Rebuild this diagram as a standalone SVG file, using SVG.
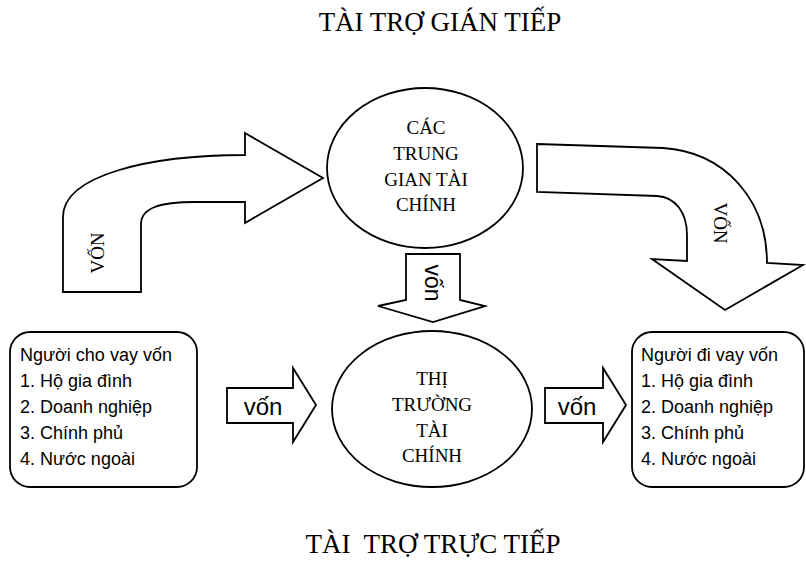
<svg xmlns="http://www.w3.org/2000/svg" width="806" height="567" viewBox="0 0 806 567">
<style>
.shape{fill:#fff;stroke:#000;stroke-width:1.8;stroke-linejoin:miter}
.serif{font-family:"Liberation Serif","Times New Roman",serif;fill:#000}
.sans{font-family:"Liberation Sans",Arial,sans-serif;fill:#000}
.title{font-size:27px}
.node{font-size:19px;text-anchor:middle}
.list{font-size:18px}
.lbl{font-size:24px;text-anchor:middle}
</style>
<rect width="806" height="567" fill="#fff"/>
<text class="serif title" x="440" y="31" text-anchor="middle">TÀI TRỢ GIÁN TIẾP</text>
<text class="serif title" x="433" y="553" text-anchor="middle" xml:space="preserve">TÀI  TRỢ TRỰC TIẾP</text>

<g id="connectors">
  <g id="arrow-indirect-in">
    <path class="shape" d="M63,292 L63,217 C63,175 150,155 245,155 L245,133 L323,178 L245,223 L245,202 L195,202 C160,202 141,208 141,224 L141,292 Z"/>
    <text class="serif" font-size="19" text-anchor="middle" transform="translate(97,253) rotate(-90)" y="6.5">VỐN</text>
  </g>
  <g id="arrow-indirect-out">
    <path class="shape" d="M537,144 L663,148 C725,152 767,200 767,263 L803,265 L725,310 L652,259 L687,261 L687,235 C687,212 675,197 657,196 L537,192 Z"/>
    <text class="serif" font-size="19" text-anchor="middle" transform="translate(720,223) rotate(90)" y="6.5">VỐN</text>
  </g>
  <g id="arrow-down">
    <path class="shape" d="M406,254 L460,254 L460,300 L485,306 L433,322 L378,306 L406,300 Z"/>
    <text class="sans" font-size="23" text-anchor="middle" transform="translate(425,283) rotate(90)" y="0">vốn</text>
  </g>
  <g id="arrow-direct-in">
    <path class="shape" d="M227,388 L293,388 L293,368 L316,405 L293,442 L293,423 L227,423 Z"/>
    <text class="sans lbl" x="263" y="415">vốn</text>
  </g>
  <g id="arrow-direct-out">
    <path class="shape" d="M545,388 L603,388 L603,368 L626,405 L603,442 L603,423 L545,423 Z"/>
    <text class="sans lbl" x="577" y="415">vốn</text>
  </g>
</g>

<g id="intermediaries">
  <ellipse class="shape" cx="425" cy="168" rx="98" ry="80"/>
  <text class="serif node" x="426" y="134">CÁC</text>
  <text class="serif node" x="426" y="160">TRUNG</text>
  <text class="serif node" x="426" y="186">GIAN TÀI</text>
  <text class="serif node" x="426" y="211">CHÍNH</text>
</g>

<g id="market">
  <ellipse class="shape" cx="432" cy="409" rx="100" ry="78"/>
  <text class="serif node" x="432" y="385">THỊ</text>
  <text class="serif node" x="432" y="411">TRƯỜNG</text>
  <text class="serif node" x="432" y="437">TÀI</text>
  <text class="serif node" x="432" y="462">CHÍNH</text>
</g>

<g id="lenders">
  <rect class="shape" x="10" y="332" width="187" height="155" rx="20" ry="20"/>
  <text class="sans list" x="20" y="361">Người cho vay vốn</text>
  <text class="sans list" x="20" y="387">1. Hộ gia đình</text>
  <text class="sans list" x="20" y="413">2. Doanh nghiệp</text>
  <text class="sans list" x="20" y="439">3. Chính phủ</text>
  <text class="sans list" x="20" y="465">4. Nước ngoài</text>
</g>

<g id="borrowers">
  <rect class="shape" x="632" y="332" width="172" height="155" rx="20" ry="20"/>
  <text class="sans list" x="641" y="361">Người đi vay vốn</text>
  <text class="sans list" x="641" y="387">1. Hộ gia đình</text>
  <text class="sans list" x="641" y="413">2. Doanh nghiệp</text>
  <text class="sans list" x="641" y="439">3. Chính phủ</text>
  <text class="sans list" x="641" y="465">4. Nước ngoài</text>
</g>
</svg>
